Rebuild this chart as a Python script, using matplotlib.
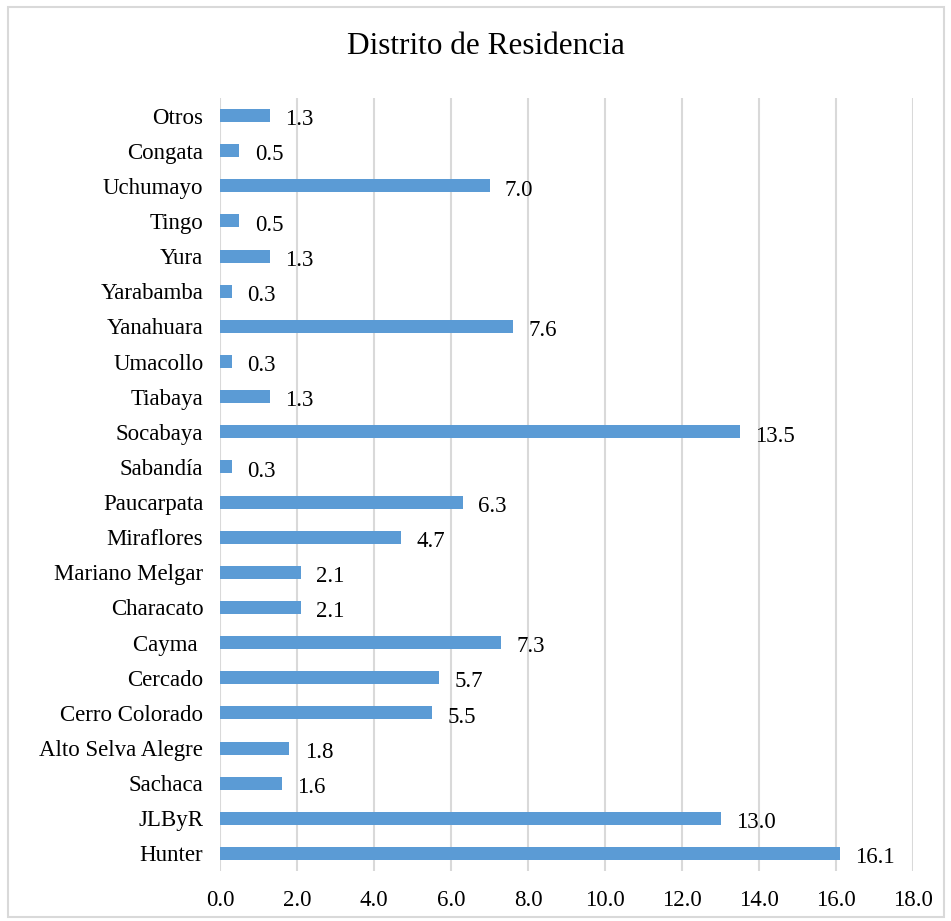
import matplotlib.pyplot as plt
from matplotlib.patches import Rectangle

# district names, bottom to top as they appear on the axis
districts = ["Hunter", "JLByR", "Sachaca", "Alto Selva Alegre", "Cerro Colorado",
             "Cercado", "Cayma ", "Characato", "Mariano Melgar", "Miraflores",
             "Paucarpata", "Sabandía", "Socabaya", "Tiabaya", "Umacollo",
             "Yanahuara", "Yarabamba", "Yura", "Tingo", "Uchumayo", "Congata", "Otros"]
percent = [16.1, 13.0, 1.6, 1.8, 5.5, 5.7, 7.3, 2.1, 2.1, 4.7, 6.3, 0.3,
           13.5, 1.3, 0.3, 7.6, 0.3, 1.3, 0.5, 7.0, 0.5, 1.3]
xticks = [0, 2, 4, 6, 8, 10, 12, 14, 16, 18]

plt.rcParams['font.family'] = ['Liberation Serif', 'DejaVu Serif']

fig = plt.figure(figsize=(9.51, 9.21), dpi=100)
fig.patches.append(Rectangle((8 / 951, 4 / 921), 936 / 951, 910 / 921,
                             transform=fig.transFigure, fill=False,
                             edgecolor='#D9D9D9', linewidth=1.5))

ax = fig.add_axes([220 / 951, 50 / 921, 693 / 951, 773 / 921])
pos = range(len(districts))
ax.barh(pos, percent, height=0.37, color='#5B9BD5', zorder=3)

for y, v in zip(pos, percent):
    ax.text(v + 0.4, y - 0.12, f"{v:.1f}", va='center', ha='left', fontsize=16.5)

ax.set_xlim(0, 18)
ax.set_ylim(-0.5, len(districts) - 0.5)
ax.set_xticks(xticks)
ax.set_xticklabels([f"{t:.1f}" for t in xticks])
ax.set_yticks(list(pos))
ax.set_yticklabels(districts)
ax.tick_params(axis='both', length=0, labelsize=16.5)
ax.tick_params(axis='x', pad=14)
ax.tick_params(axis='y', pad=12)
ax.grid(axis='x', color='#D9D9D9', linewidth=1.5, zorder=0)
for s in ax.spines.values():
    s.set_visible(False)

fig.text(486 / 951, 1 - 47 / 921, "Distrito de Residencia", ha='center', va='center',
         fontsize=22.5)

fig.savefig("out.png", dpi=100)
